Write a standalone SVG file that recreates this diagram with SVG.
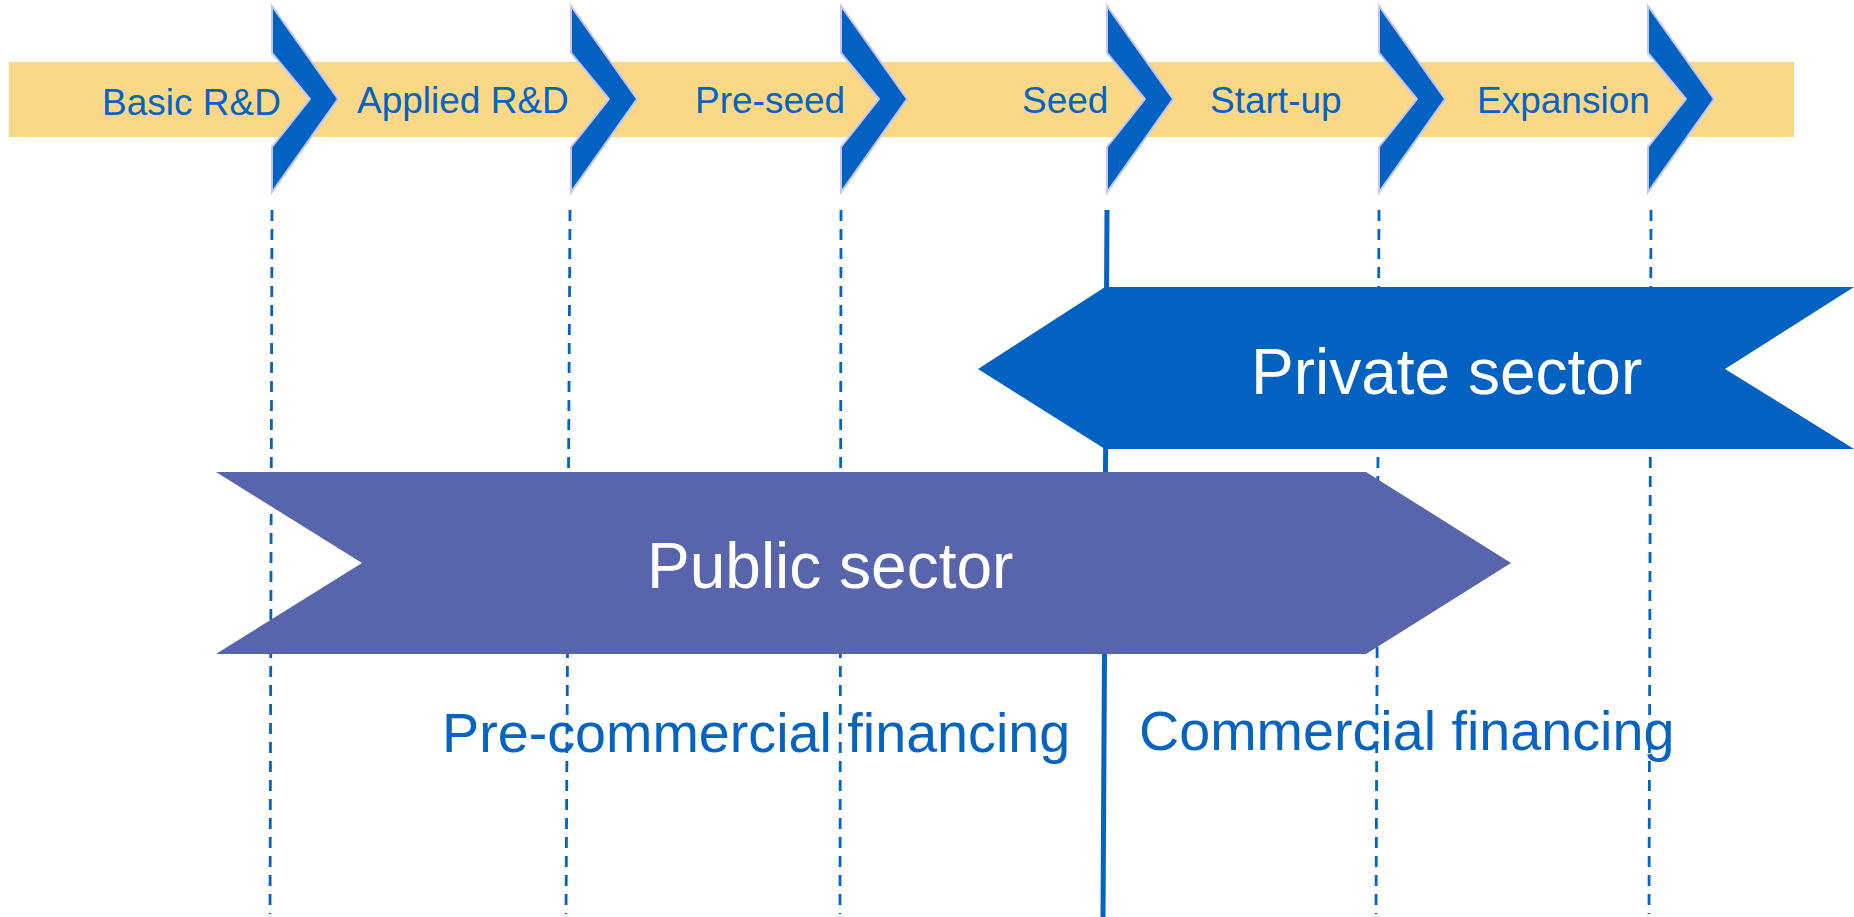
<svg xmlns="http://www.w3.org/2000/svg" width="1854" height="917" viewBox="0 0 1854 917">
<style>
.lbl{font-family:"Liberation Sans",Arial,sans-serif;font-size:37px;fill:#0563c1}
.big{font-family:"Liberation Sans",Arial,sans-serif;font-size:64px;fill:#ffffff}
.fin{font-family:"Liberation Sans",Arial,sans-serif;font-size:55.7px;fill:#0563c1}
.chev{fill:#0261c1;stroke:#c4c4f6;stroke-width:2}
.dash{stroke:#0563c1;stroke-width:2.8;stroke-dasharray:11 8;fill:none}
</style>
<defs>
<polygon id="chevshape" points="0,6 66,99 0,192 0,147 38,99 0,53"/>
</defs>
<rect width="1854" height="917" fill="#ffffff"/>
<g id="band">
<rect x="9" y="62" width="1785" height="75" fill="#fad888"/>
</g>
<g id="connectors">
<line class="dash" x1="272" y1="210" x2="270" y2="914"/>
<line class="dash" x1="570" y1="210" x2="566" y2="914"/>
<line class="dash" x1="841" y1="210" x2="840" y2="914"/>
<line class="dash" x1="1379" y1="210" x2="1376" y2="914"/>
<line class="dash" x1="1651" y1="210" x2="1649" y2="914"/>
<line x1="1107" y1="210" x2="1103" y2="917" stroke="#0563c1" stroke-width="5"/>
</g>
<g id="chevrons">
<use href="#chevshape" class="chev" x="272"/>
<use href="#chevshape" class="chev" x="571"/>
<use href="#chevshape" class="chev" x="841"/>
<use href="#chevshape" class="chev" x="1107"/>
<use href="#chevshape" class="chev" x="1379"/>
<use href="#chevshape" class="chev" x="1648"/>
</g>
<g id="stage-labels">
<text class="lbl" x="102" y="115">Basic R&amp;D</text>
<text class="lbl" x="357" y="113">Applied R&amp;D</text>
<text class="lbl" x="695" y="113">Pre-seed</text>
<text class="lbl" x="1022" y="113">Seed</text>
<text class="lbl" x="1210" y="113">Start-up</text>
<text class="lbl" x="1477" y="113">Expansion</text>
</g>
<g id="private-sector">
<polygon points="1105,287 1854,287 1725,369 1854,449 1105,449 978,369" fill="#0261c1"/>
<text class="big" x="1251" y="394">Private sector</text>
</g>
<g id="public-sector">
<polygon points="216,472 1366,472 1511,563 1366,654 216,654 362,563" fill="#5865ad"/>
<text class="big" x="647" y="588">Public sector</text>
</g>
<g id="financing-labels">
<text class="fin" x="442" y="752">Pre-commercial financing</text>
<text class="fin" x="1139" y="750">Commercial financing</text>
</g>
</svg>
